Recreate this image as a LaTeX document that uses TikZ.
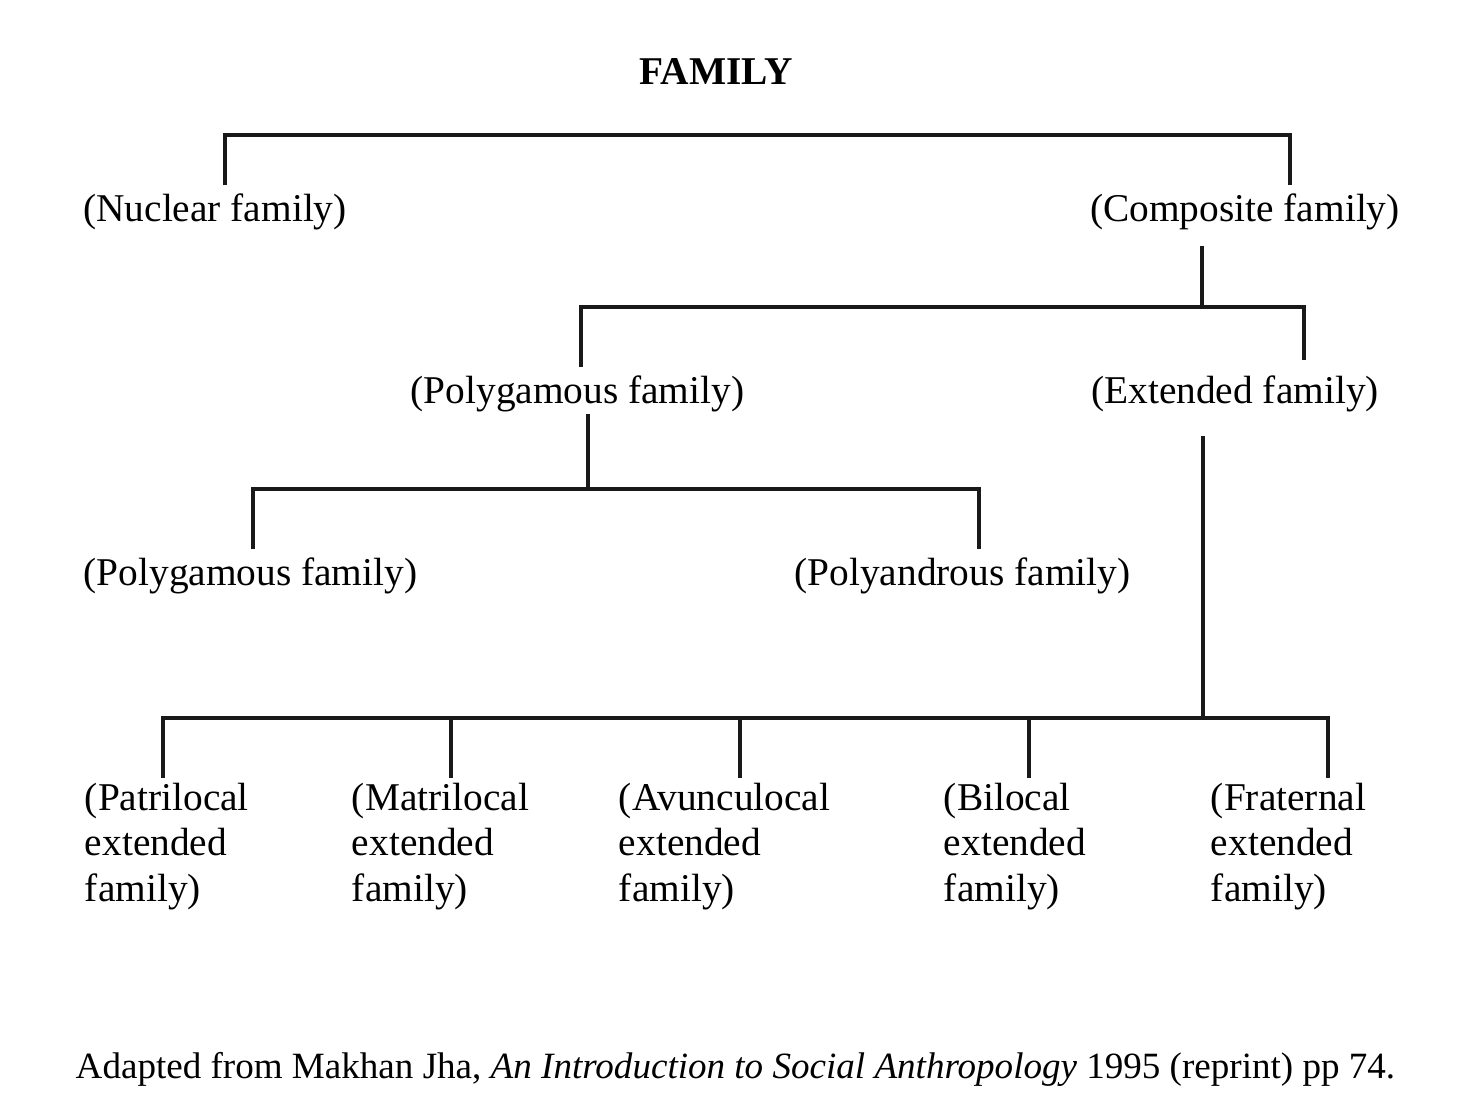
\documentclass[tikz,border=0pt]{standalone}
\usepackage{fontspec}
\setmainfont{Liberation Serif}
\usetikzlibrary{positioning, calc}

\tikzset{
  kin/.style={inner sep=1.2pt, font=\fontsize{11.2}{12.94}\selectfont},
  leaf/.style={kin, align=left, anchor=north west},
  tree/.style={draw=black!90, line width=0.95pt}
}

\begin{document}
\begin{tikzpicture}
  \useasboundingbox (0,0) rectangle (14.78,-10.95);

  % title
  \node[kin, font=\fontsize{11.2}{12.94}\selectfont\bfseries] (fam) at (7.16,-0.72) {FAMILY};

  % first split
  \node[kin] (nuc)  at (2.15,-2.12)  {(Nuclear family)};
  \node[kin] (comp) at (12.45,-2.12) {(Composite family)};

  % second split
  \node[kin] (poly) at (5.775,-3.94) {(Polygamous family)};
  \node[kin] (ext)  at (12.35,-3.94) {(Extended family)};

  % third split
  \node[kin] (polyg) at (2.505,-5.76) {(Polygamous family)};
  \node[kin] (polya) at (9.625,-5.76) {(Polyandrous family)};

  % extended family types
  \node[leaf] (patri) at (0.80,-7.78) {(Patrilocal\\extended\\family)};
  \node[leaf] (matri) at (3.47,-7.78) {(Matrilocal\\extended\\family)};
  \node[leaf] (avunc) at (6.14,-7.78) {(Avunculocal\\extended\\family)};
  \node[leaf] (biloc) at (9.39,-7.78) {(Bilocal\\extended\\family)};
  \node[leaf] (frat)  at (12.06,-7.78) {(Fraternal\\extended\\family)};

  % junctions
  \coordinate (j1a) at (2.25,-1.35);
  \coordinate (j1b) at (12.90,-1.35);
  \coordinate (j2)  at (12.02,-3.07);
  \coordinate (j2a) at (5.81,-3.07);
  \coordinate (j2b) at (13.04,-3.07);
  \coordinate (j3)  at (5.88,-4.89);
  \coordinate (j3a) at (2.53,-4.89);
  \coordinate (j3b) at (9.79,-4.89);
  \coordinate (j4)  at (12.03,-7.18);
  \coordinate (j4a) at (1.63,-7.18);
  \coordinate (j4b) at (4.51,-7.18);
  \coordinate (j4c) at (7.40,-7.18);
  \coordinate (j4d) at (10.29,-7.18);
  \coordinate (j4e) at (13.28,-7.18);

  \draw[tree] ([yshift=1pt]nuc.north -| j1a) -- (j1a) -- (j1b) -- ([yshift=1pt]comp.north -| j1b);

  \draw[tree] ([yshift=-3pt]comp.south -| j2) -- (j2);
  \draw[tree] ([yshift=1pt]poly.north -| j2a) -- (j2a) -- (j2b) -- ([yshift=3pt]ext.north -| j2b);

  \draw[tree] ([yshift=1pt]poly.south -| j3) -- (j3);
  \draw[tree] ([yshift=1pt]polyg.north -| j3a) -- (j3a) -- (j3b) -- ([yshift=1pt]polya.north -| j3b);

  \draw[tree] ([yshift=-5.5pt]ext.south -| j4) -- (j4);
  \draw[tree] (patri.north -| j4a) -- (j4a) -- (j4e) -- (frat.north -| j4e);
  \draw[tree] (matri.north -| j4b) -- (j4b);
  \draw[tree] (avunc.north -| j4c) -- (j4c);
  \draw[tree] (biloc.north -| j4d) -- (j4d);

  % source
  \node[kin, font=\fontsize{10.55}{12.94}\selectfont] (src) at (7.355,-10.69) {Adapted from Makhan Jha, \textit{An Introduction to Social Anthropology} 1995 (reprint) pp 74.};
\end{tikzpicture}
\end{document}
